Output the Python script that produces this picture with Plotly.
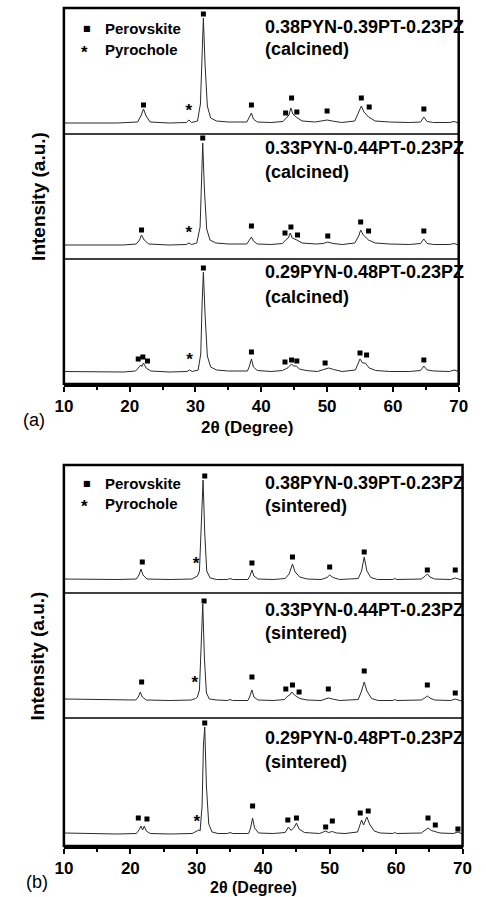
import plotly.graph_objects as go

W, H = 486, 897

# ---------------- data (2theta, intensity a.u.) ----------------
a1 = [(10,11),(14,11),(18,11),(21.2,12),(21.7,18),(22.1,25),(22.5,18),(23.1,12),(26,11),(28.6,11.5),(29.0,14),(29.4,11.5),
      (30.3,13),(30.75,30),(31.0,85),(31.2,116),(31.45,70),(31.8,28),(32.3,16),(33.2,13),(35,12),(37.8,12),(38.2,17),(38.5,21),
      (38.8,15),(39.4,12),(41.5,11.5),(43.3,12.5),(43.8,16),(44.2,19),(44.5,26),(44.8,20),(45.3,17),(46.2,13),(48.2,12),(49.3,13),
      (50.0,14),(50.8,13),(52.2,11.5),(54.2,13),(54.8,21),(55.2,28),(55.6,22),(56.3,17),(57.3,13),(59.5,12),(62.5,11.5),(64.2,12),
      (64.7,17),(65.2,12.5),(66.2,11.5),(68.6,11.5),(69.3,12.5),(70,11)]
a2 = [(10,14),(15,14),(19,14),(21.0,15),(21.5,19),(21.8,24),(22.2,19),(22.9,15),(26,14),(28.6,14.5),(29.0,16),(29.4,14.5),
      (30.2,16),(30.7,32),(30.9,85),(31.1,116),(31.35,70),(31.7,30),(32.2,19),(33.1,16),(35,15),(37.8,15),(38.2,19),(38.5,22),
      (38.8,18),(39.4,15),(41.5,14.5),(43.2,15.5),(43.7,19),(44.1,21),(44.4,26),(44.7,21),(45.4,19),(46.2,16),(48.3,15),(49.4,15.5),
      (50.1,17),(50.9,15.5),(52.3,14.5),(54.2,16),(54.8,23),(55.1,29),(55.5,24),(56.3,19),(57.3,16),(59.5,15),(62.5,14.5),(64.2,15.5),
      (64.7,20),(65.2,15.5),(66.2,14.5),(68.6,14.5),(69.3,15.5),(70,14)]
a3 = [(10,12.5),(15,12.5),(19,12),(20.9,13),(21.5,18),(21.7,19),(21.85,17.5),(22.1,21),(22.5,16),(23.2,13),(26,12),(28.7,12.5),
      (29.1,14),(29.5,12.5),(30.4,14),(30.8,30),(31.0,80),(31.2,112),(31.45,70),(31.8,28),(32.3,17),(33.2,14),(35,13),(37.9,13),
      (38.2,18),(38.5,25),(38.8,17),(39.4,13.5),(41.5,12.5),(43.2,13.5),(43.7,15),(44.1,16.5),(44.6,20),(44.9,18),(45.3,18),(45.8,15),
      (46.8,13.5),(48.5,12.5),(49.5,14.5),(50.2,16),(51.0,14.5),(52.3,12.5),(54.3,14),(54.7,20),(55.0,25),(55.4,21),(55.8,21),(56.4,16),
      (57.4,13.5),(59.5,12.5),(62.5,12.5),(64.2,13.5),(64.7,18),(65.2,14),(66.2,13),(68.6,12.5),(69.3,14),(70,12.5)]
b1 = [(10,14),(14,13.5),(18,13.5),(20.9,14),(21.3,18),(21.6,24),(21.9,18),(22.5,14),(26,13.5),(29.3,14),(29.8,16),(30.1,17),
      (30.4,22),(30.7,80),(30.95,113),(31.2,60),(31.5,22),(32.0,15),(33,13.5),(34.6,13.5),(35.0,14.5),(35.4,13.5),(37.7,13.5),(38.0,17),
      (38.3,23),(38.6,17),(39.2,14),(41.5,13.5),(43.3,14.5),(43.9,19),(44.4,29),(44.8,21),(45.5,16),(46.6,14),(48.7,13.5),(49.6,15.5),
      (50.0,18),(50.5,15.5),(51.5,13.5),(54.3,14.5),(54.8,22),(55.2,36),(55.6,22),(56.2,15.5),(57.2,13.5),(59.5,13.5),(59.8,14.5),
      (60.1,13.5),(63.8,14),(64.4,17),(64.7,19),(65.1,16),(65.8,14),(68.2,13.5),(68.9,15),(69.6,13.5),(70,13)]
b2 = [(10,19),(14,18.5),(18,18),(20.8,18),(21.2,21),(21.5,26),(21.8,21),(22.4,18),(26,17.5),(29.2,18),(29.8,19.5),(30.1,21),
      (30.4,28),(30.65,80),(30.9,114),(31.15,60),(31.45,25),(31.9,19),(33,18),(34.6,17.5),(35.0,18.5),(35.4,17.5),(37.7,17.5),(38.0,22),
      (38.3,28),(38.6,21),(39.2,18),(41.5,17.5),(43.2,18.5),(43.7,22),(44.0,23),(44.3,26),(44.7,23),(45.5,19.5),(46.6,18),(48.7,17.5),
      (49.4,19),(49.8,20),(50.4,19),(51.5,17.5),(54.3,18.5),(54.8,27),(55.2,36),(55.6,27),(56.3,19.5),(57.3,17.5),(59.5,17.5),(59.8,18.5),
      (60.1,17.5),(63.8,18),(64.3,20),(64.7,22),(65.1,20),(65.8,18),(68.2,17.5),(68.9,19),(69.6,17.5),(70,17)]
b3 = [(10,13),(14,12.5),(18,12),(20.9,12.5),(21.3,16),(21.6,20),(21.85,16),(22.1,20),(22.4,15),(23,12.5),(26,12),(29.3,12.5),
      (29.8,14),(30.0,15),(30.3,16),(30.5,15),(30.8,40),(31.0,100),(31.2,119),(31.45,60),(31.8,22),(32.3,14),(33.2,12.5),(34.6,12.5),
      (35.0,13.5),(35.4,12.5),(37.8,12.5),(38.1,18),(38.4,28),(38.7,18),(39.3,13),(41.5,12.5),(43.3,13.5),(43.8,19),(44.2,15.5),
      (44.7,19),(45.0,23),(45.4,17),(46.2,13.5),(48.5,12.5),(49.1,14),(49.4,15),(49.8,13.5),(50.4,14.5),(51.0,13),(52.3,12.5),
      (54.2,14),(54.8,26),(55.1,21),(55.6,29),(56.0,22),(56.7,15),(57.6,13),(59.5,12.5),(59.8,13.5),(60.1,12.5),(63.8,13),(64.4,16),
      (64.8,18),(65.3,15.5),(65.9,14),(66.6,13),(68.6,12.5),(69.3,14),(69.8,12.5),(70,12.5)]

# perovskite peak markers (2theta, height)
perov_a1 = [(22.1,29),(31.2,120),(38.5,29),(43.7,21),(44.6,36),(45.4,22),(50.0,23),(55.2,36),(56.4,27),(64.7,25)]
perov_a2 = [(21.8,29),(31.1,121),(38.5,33),(43.6,26),(44.5,32),(45.5,24),(50.1,23),(55.1,37),(56.3,28),(64.7,28)]
perov_a3 = [(21.3,25),(22.0,27),(22.7,23),(31.2,116),(38.5,32),(43.6,22),(44.6,24),(45.4,23),(49.7,21),(55.0,31),(56.0,29),(64.7,24)]
perov_b1 = [(21.8,31),(31.2,117),(38.3,30),(44.4,36),(50.0,26),(55.2,41),(64.7,23),(68.9,23)]
perov_b2 = [(21.7,36),(31.1,117),(38.3,41),(43.4,29),(44.4,33),(45.4,26),(49.8,29),(55.2,47),(64.7,33),(68.9,25)]
perov_b3 = [(21.2,28),(22.5,27),(31.2,123),(38.4,40),(43.7,26),(45.0,28),(49.4,19),(50.4,25),(54.6,33),(55.8,35),(64.8,28),(65.9,21),(69.3,17)]
# pyrochlore markers
pyro_a1 = [(29.0,22)]
pyro_a2 = [(29.0,25)]
pyro_a3 = [(29.1,23)]
pyro_b1 = [(29.9,28)]
pyro_b2 = [(29.7,34)]
pyro_b3 = [(30.0,23)]

compositions = ["0.38PYN-0.39PT-0.23PZ", "0.33PYN-0.44PT-0.23PZ", "0.29PYN-0.48PT-0.23PZ"]
states = ["(calcined)", "(sintered)"]
legend_labels = ["Perovskite", "Pyrochole"]
x_ticks = [10, 20, 30, 40, 50, 60, 70]

# ---------------- layout geometry (pixels) ----------------
FONT = "Liberation Sans, Arial, Helvetica, sans-serif"

panels = [
    dict(x0=57, x1=467, rows=[(8, 134), (134, 259), (259, 384)],
         curves=[a1, a2, a3], perov=[perov_a1, perov_a2, perov_a3], pyro=[pyro_a1, pyro_a2, pyro_a3],
         state=states[0], tag="(a)", title_y=427, title_x=247, title_size=17, tag_pos=(26, 420),
         leg_y=(28, 49), lab=[(27, 49), (148, 172), (272, 297)]),
    dict(x0=57, x1=471, rows=[(465, 593), (593, 718), (718, 846)],
         curves=[b1, b2, b3], perov=[perov_b1, perov_b2, perov_b3], pyro=[pyro_b1, pyro_b2, pyro_b3],
         state=states[1], tag="(b)", title_y=887, title_x=254, title_size=16, tag_pos=(29, 882),
         leg_y=(483, 504), lab=[(483, 506), (610, 633), (738, 762)]),
]

fig = go.Figure()
layout = dict(width=W, height=H, margin=dict(l=0, r=0, t=0, b=0),
              paper_bgcolor="white", plot_bgcolor="white", showlegend=False)
annotations, shapes = [], []
idx = 0
for p in panels:
    for r, (top, bot) in enumerate(p["rows"]):
        idx += 1
        xa = "x" if idx == 1 else f"x{idx}"
        ya = "y" if idx == 1 else f"y{idx}"
        curve = p["curves"][r]
        fig.add_trace(go.Scatter(x=[c[0] for c in curve], y=[c[1] for c in curve], mode="lines",
                                 line=dict(color="#2a2a2a", width=1), xaxis=xa, yaxis=ya, hoverinfo="skip"))
        pv = p["perov"][r]
        fig.add_trace(go.Scatter(x=[c[0] for c in pv], y=[c[1] for c in pv], mode="markers",
                                 marker=dict(symbol="square", size=5, color="black"), xaxis=xa, yaxis=ya))
        py = p["pyro"][r]
        fig.add_trace(go.Scatter(x=[c[0] for c in py], y=[c[1] for c in py], mode="text", text=["*"] * len(py),
                                 textposition="middle center",
                                 textfont=dict(family=FONT, size=17, color="black", weight="bold"),
                                 xaxis=xa, yaxis=ya))
        bottom = (r == 2)
        xd = [p["x0"] / W, p["x1"] / W]
        yd = [1 - bot / H, 1 - top / H]
        xkey = "xaxis" if idx == 1 else f"xaxis{idx}"
        ykey = "yaxis" if idx == 1 else f"yaxis{idx}"
        xaxis = dict(domain=xd, anchor=ya, range=[10, 70], showgrid=False, zeroline=False,
                     showline=bottom, linecolor="black", linewidth=2.5,
                     ticks="outside" if bottom else "", ticklen=5, tickwidth=2, tickcolor="black",
                     tickvals=x_ticks, showticklabels=bottom,
                     tickfont=dict(family=FONT, size=17, color="black", weight="bold"))
        if bottom:
            xaxis["minor"] = dict(dtick=5, tick0=10, ticks="outside", ticklen=3, tickwidth=2, tickcolor="black")
        layout[xkey] = xaxis
        layout[ykey] = dict(domain=yd, anchor=xa, range=[0, bot - top], showgrid=False, zeroline=False,
                            showline=False, ticks="", showticklabels=False)
        # composition labels
        lx = 264
        l1, l2 = p["lab"][r]
        annotations.append(dict(xref="paper", yref="paper", x=lx / W, y=1 - l1 / H, xanchor="left", yanchor="middle",
                                text=compositions[r], showarrow=False,
                                font=dict(family=FONT, size=18, color="black", weight="bold")))
        annotations.append(dict(xref="paper", yref="paper", x=lx / W, y=1 - l2 / H, xanchor="left", yanchor="middle",
                                text=p["state"], showarrow=False,
                                font=dict(family=FONT, size=18, color="black", weight="bold")))
    # frame
    t, b = p["rows"][0][0], p["rows"][2][1]
    shapes.append(dict(type="rect", xref="paper", yref="paper", x0=p["x0"] / W, x1=p["x1"] / W,
                       y0=1 - b / H, y1=1 - t / H, line=dict(color="black", width=2.5)))
    for r in range(2):
        yy = 1 - p["rows"][r][1] / H
        shapes.append(dict(type="line", xref="paper", yref="paper", x0=p["x0"] / W, x1=p["x1"] / W,
                           y0=yy, y1=yy, line=dict(color="black", width=1.5)))
    # legend
    ly1, ly2 = p["leg_y"]
    annotations.append(dict(xref="paper", yref="paper", x=81 / W, y=1 - ly1 / H, xanchor="center", yanchor="middle",
                            text="■", showarrow=False, font=dict(family="DejaVu Sans", size=8, color="black")))
    annotations.append(dict(xref="paper", yref="paper", x=78 / W, y=1 - (ly2 + 3) / H, xanchor="center", yanchor="middle",
                            text="*", showarrow=False, font=dict(family=FONT, size=17, color="black", weight="bold")))
    annotations.append(dict(xref="paper", yref="paper", x=98 / W, y=1 - ly1 / H, xanchor="left", yanchor="middle",
                            text=legend_labels[0], showarrow=False,
                            font=dict(family=FONT, size=15, color="black", weight="bold")))
    annotations.append(dict(xref="paper", yref="paper", x=98 / W, y=1 - ly2 / H, xanchor="left", yanchor="middle",
                            text=legend_labels[1], showarrow=False,
                            font=dict(family=FONT, size=15, color="black", weight="bold")))
    # y title
    cy = (t + b) / 2
    annotations.append(dict(xref="paper", yref="paper", x=30 / W, y=1 - cy / H, xanchor="center", yanchor="middle",
                            text="Intensity (a.u.)", textangle=-90, showarrow=False,
                            font=dict(family=FONT, size=19, color="black", weight="bold")))
    # x title
    annotations.append(dict(xref="paper", yref="paper", x=p["title_x"] / W, y=1 - p["title_y"] / H,
                            xanchor="center", yanchor="middle", text="2θ (Degree)", showarrow=False, borderpad=0,
                            font=dict(family=FONT, size=p["title_size"], color="black", weight="bold")))
    # panel tag
    annotations.append(dict(xref="paper", yref="paper", x=p["tag_pos"][0] / W, y=1 - p["tag_pos"][1] / H,
                            xanchor="center", yanchor="middle", text=p["tag"], showarrow=False,
                            font=dict(family=FONT, size=18, color="black")))

layout["annotations"] = annotations
layout["shapes"] = shapes
fig.update_layout(**layout)
fig.write_html("out.html")
